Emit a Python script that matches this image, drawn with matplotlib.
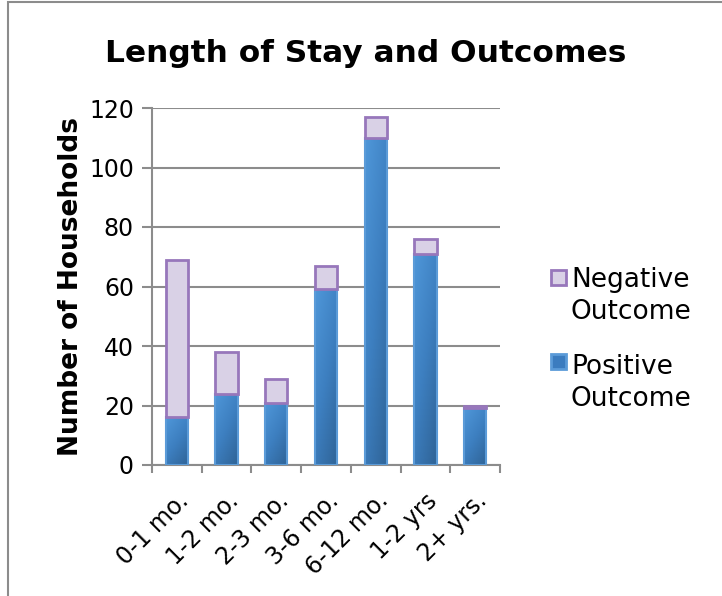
import matplotlib
matplotlib.use("Agg")
import matplotlib.pyplot as plt
from matplotlib.patches import Rectangle
from matplotlib.colors import LinearSegmentedColormap
import matplotlib.transforms as mtransforms
import numpy as np

categories = ["0-1 mo.", "1-2 mo.", "2-3 mo.", "3-6 mo.", "6-12 mo.", "1-2 yrs", "2+ yrs."]
positive = [16, 24, 21, 59, 110, 71, 19]
negative = [53, 14, 8, 8, 7, 5, 1]
series_labels = ["Negative\nOutcome", "Positive\nOutcome"]

W, H = 722, 596
fig = plt.figure(figsize=(W/100, H/100), dpi=100)
ax = fig.add_axes([152/W, 1-465/H, 348/W, 357/H])

x = np.arange(len(categories))
w = 0.45
pbars = ax.bar(x, positive, w, color="#3b7cbf", edgecolor="#5b9bd8", linewidth=1.5,
               label=series_labels[1], zorder=3)
nbars = ax.bar(x, negative, w, bottom=positive, color="#d9d1e6", edgecolor="#9777bb",
               linewidth=2, label=series_labels[0], zorder=4)

# gradient fill for the blue bars
cmap = LinearSegmentedColormap.from_list("blu", ["#2f6396", "#3d7fc0", "#4f97d9"])
gy, gx = np.mgrid[0:1:100j, 0:1:40j]
grad = (gy * 0.6 + (1 - gx) * 0.4)
for b in pbars:
    bx, by = b.get_x(), b.get_y()
    bw, bh = b.get_width(), b.get_height()
    im = ax.imshow(grad, cmap=cmap, extent=(bx, bx + bw, by, by + bh), origin="lower",
                   aspect="auto", zorder=3.2, interpolation="bilinear")
    im.set_clip_path(b)
    b.set_facecolor("none")
    b.set_zorder(3.5)

ax.set_xlim(-0.5, len(categories) - 0.5)
ax.set_ylim(0, 120)
ax.set_aspect("auto")
ax.set_yticks(range(0, 121, 20))
ax.yaxis.grid(True, color="#8c8c8c", linewidth=1.5, zorder=0)
ax.set_xticks(x)
ax.set_xticklabels(categories, rotation=45, ha="right", rotation_mode="anchor", fontsize=17)
offset = mtransforms.ScaledTranslation(-7/100, 0, fig.dpi_scale_trans)
for t in ax.get_xticklabels():
    t.set_transform(t.get_transform() + offset)
ax.set_xticks(np.arange(-0.5, len(categories)), minor=True)
ax.tick_params(axis="x", which="major", length=0, pad=17)
ax.tick_params(axis="x", which="minor", length=6, color="#8c8c8c", width=1.5)
ax.tick_params(axis="y", length=7, color="#8c8c8c", width=1.5, labelsize=17, pad=6)
for s in ["top", "right"]:
    ax.spines[s].set_visible(False)
for s in ["left", "bottom"]:
    ax.spines[s].set_color("#8c8c8c")
    ax.spines[s].set_linewidth(1.5)

ax.set_ylabel("Number of Households", fontsize=19, fontweight="bold", labelpad=4)
fig.text(366/W, 1-53/H, "Length of Stay and Outcomes", fontsize=22.5,
         fontweight="bold", ha="center", va="center")

# legend drawn manually (marker aligned with first line of each label)
leg_items = [(series_labels[0], "#d9d1e6", "#9777bb", 270, 296),
             (series_labels[1], "#3b7cbf", "#5b9bd8", 354, 383)]
for lab, fc, ec, ytop, yc in leg_items:
    fig.add_artist(Rectangle((551/W, 1-(ytop+15)/H), 15/W, 15/H, transform=fig.transFigure,
                             facecolor=fc, edgecolor=ec, linewidth=2))
    fig.text(571/W, 1-yc/H, lab, fontsize=19, ha="left", va="center", linespacing=1.3)

fig.add_artist(Rectangle((8/W, -0.1), 1.2, 1.1 - 2/H, transform=fig.transFigure,
                         fill=False, edgecolor="#8c8c8c", linewidth=1.5))

fig.savefig("out.png", dpi=100)
